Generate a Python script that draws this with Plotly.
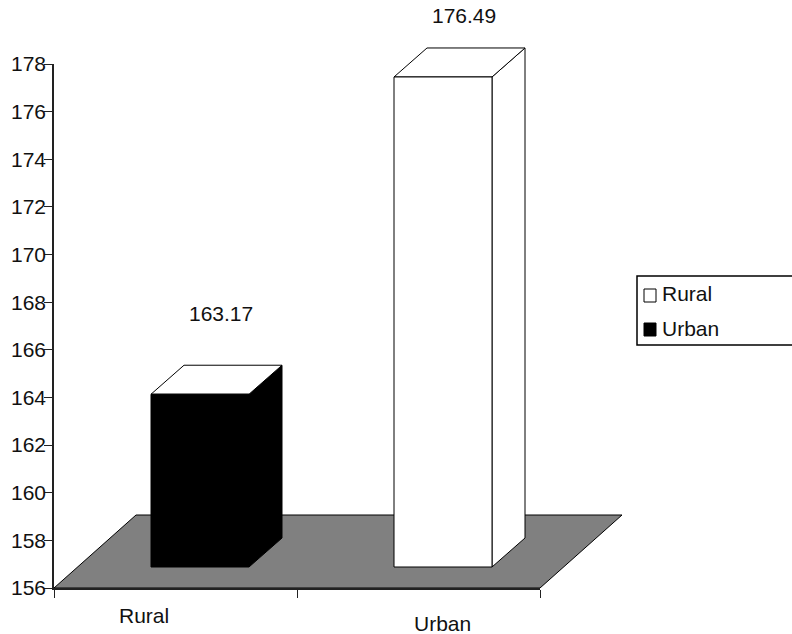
import plotly.graph_objects as go

categories = ["Rural", "Urban"]
values = [163.17, 176.49]
legend_names = ["Rural", "Urban"]
legend_colors = ["white", "black"]
front_colors = ["black", "white"]
side_colors = ["black", "white"]
top_colors = ["white", "white"]

FIG_W, FIG_H = 792, 634
PLOT_W, PLOT_H = 738, 580   # plot area: x 54..792, y 8..588 in window pixels
AXIS_W, AXIS_H = 486, 524
PX_X = AXIS_W / 2        # pixels per category
PX_Y = AXIS_H / 22       # pixels per y unit
Y_MIN, Y_MAX = 156, 178


def ux(px):
    return px / PX_X


def uy(px):
    return px / PX_Y


FLOOR_DX, FLOOR_DY = ux(82), uy(73)
BAR_DX, BAR_DY = ux(33), uy(29)
BASE_LIFT = uy(21)
TOP_LIFT = uy(23)
BAR_W = ux(98)
CENTER_SHIFT = ux(24.5)


def wx(px):  # window px to paper x
    return (px - 54) / PLOT_W


def wy(py):  # window px to paper y
    return (588 - py) / PLOT_H


fig = go.Figure()
DARK = "#222222"


def poly(xs, ys, fill):
    fig.add_trace(go.Scatter(
        x=xs + xs[:1], y=ys + ys[:1], xaxis="x2", yaxis="y2",
        mode="lines", fill="toself", fillcolor=fill,
        line=dict(color="black", width=1),
        showlegend=False, hoverinfo="skip"))


# floor
poly([0, 2, 2 + FLOOR_DX, FLOOR_DX],
     [Y_MIN, Y_MIN, Y_MIN + FLOOR_DY, Y_MIN + FLOOR_DY], "#808080")

# bars
for i, v in enumerate(values):
    x0 = i + 0.5 + CENTER_SHIFT - BAR_W / 2
    x1 = x0 + BAR_W
    y0 = Y_MIN + BASE_LIFT
    y1 = v + TOP_LIFT
    poly([x1, x1 + BAR_DX, x1 + BAR_DX, x1],
         [y0, y0 + BAR_DY, y1 + BAR_DY, y1], side_colors[i])
    poly([x0, x1, x1 + BAR_DX, x0 + BAR_DX],
         [y1, y1, y1 + BAR_DY, y1 + BAR_DY], top_colors[i])
    poly([x0, x1, x1, x0], [y0, y0, y1, y1], front_colors[i])

# invisible trace keeps the visible axes alive
fig.add_trace(go.Scatter(x=[None], y=[None], xaxis="x", yaxis="y",
                         showlegend=False, hoverinfo="skip"))

FONT = dict(family="Liberation Sans, Arial, sans-serif", size=21, color="#111111")

annotations = []
label_pads = [52, 32]
for i, v in enumerate(values):
    annotations.append(dict(
        x=i + 0.5 + CENTER_SHIFT + BAR_DX / 2, y=v + TOP_LIFT + BAR_DY,
        text=f"{v:.2f}", showarrow=False, xshift=4, yshift=label_pads[i],
        font=FONT, xref="x2", yref="y2", xanchor="center"))

cat_px = [144, 442]
cat_py = [615, 623]
for c, xp, yp in zip(categories, cat_px, cat_py):
    annotations.append(dict(
        x=wx(xp), y=wy(yp), xref="paper", yref="paper", text=c,
        showarrow=False, font=FONT, xanchor="center", yanchor="middle"))

# legend
shapes = [dict(type="rect", xref="paper", yref="paper",
               x0=wx(637), x1=wx(800), y0=wy(345), y1=wy(276),
               line=dict(color="black", width=1.5), fillcolor="white",
               layer="above")]
swatch_tops = [289, 323]
text_mid = [293, 328]
for name, col, st, tm in zip(legend_names, legend_colors, swatch_tops, text_mid):
    shapes.append(dict(type="rect", xref="paper", yref="paper",
                       x0=wx(644), x1=wx(656), y0=wy(st + 13), y1=wy(st),
                       line=dict(color="black", width=1), fillcolor=col,
                       layer="above"))
    annotations.append(dict(x=wx(660), y=wy(tm), xref="paper", yref="paper",
                            text=name, showarrow=False, font=FONT,
                            xanchor="left", yanchor="middle"))

fig.update_layout(
    width=FIG_W, height=FIG_H, autosize=False,
    margin=dict(l=54, r=0, t=8, b=46, pad=0, autoexpand=False),
    paper_bgcolor="white", plot_bgcolor="white",
    font=FONT,
    xaxis=dict(domain=[0, AXIS_W / PLOT_W], range=[0, 2], tickvals=[0, 1, 2],
               ticktext=["", "", ""], ticks="outside", ticklen=8,
               tickcolor=DARK, tickwidth=1, anchor="y", automargin=False,
               showline=True, linecolor=DARK, linewidth=1.5,
               showgrid=False, zeroline=False),
    yaxis=dict(domain=[0, AXIS_H / PLOT_H], range=[Y_MIN, Y_MAX], dtick=2,
               ticks="outside", ticklen=8, tickcolor=DARK, tickwidth=1,
               ticklabelstandoff=-6,
               anchor="x", showline=True, linecolor=DARK, linewidth=1.5,
               showgrid=False, zeroline=False, tickfont=FONT, automargin=False),
    xaxis2=dict(domain=[0, 1], range=[0, PLOT_W / PX_X], visible=False,
                anchor="y2", automargin=False),
    yaxis2=dict(domain=[0, 1], range=[Y_MIN, Y_MIN + PLOT_H / PX_Y],
                visible=False, anchor="x2", automargin=False),
    annotations=annotations,
    shapes=shapes,
    showlegend=False,
)

fig.write_html(
    "out.html",
    config=dict(displayModeBar=False),
    post_script="document.body.style.margin='0';"
                "document.documentElement.style.overflow='hidden';",
)
